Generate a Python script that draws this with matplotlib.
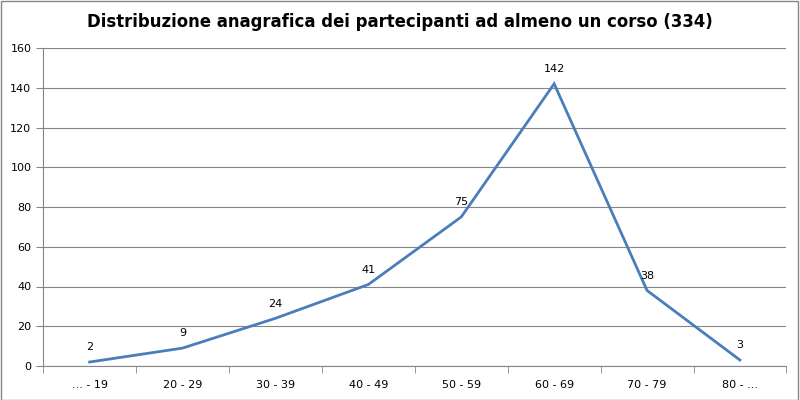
import numpy as np
import matplotlib.pyplot as plt
from matplotlib.patches import Rectangle

# Chart data
age_groups = ['... - 19', '20 - 29', '30 - 39', '40 - 49', '50 - 59', '60 - 69', '70 - 79', '80 - ...']
participants = [2, 9, 24, 41, 75, 142, 38, 3]
y_ticks = [0, 20, 40, 60, 80, 100, 120, 140, 160]
title = 'Distribuzione anagrafica dei partecipanti ad almeno un corso (334)'

plt.rcParams['font.family'] = ['DejaVu Sans']

fig = plt.figure(figsize=(8, 4), dpi=100)
ax = fig.add_axes([0.054, 0.085, 0.929, 0.795])

x = np.arange(len(age_groups))
ax.plot(x, participants, color='#4A7EBB', linewidth=2.0, solid_joinstyle='miter')

# data labels above each point
for xi, v in zip(x, participants):
    ax.annotate(str(v), (xi, v), xytext=(0, 7), textcoords='offset points',
                ha='center', va='bottom', fontsize=8)

ax.set_xlim(-0.5, len(age_groups) - 0.5)
ax.set_ylim(0, 160)
ax.set_yticks(y_ticks)
ax.set_xticks(x)
ax.set_xticklabels(age_groups)
ax.set_xticks(np.arange(-0.5, len(age_groups)), minor=True)
ax.tick_params(axis='x', which='major', length=0, labelsize=8, pad=10)
ax.tick_params(axis='x', which='minor', length=5, color='#868686', direction='out')
ax.tick_params(axis='y', length=5, color='#868686', labelsize=8)

ax.grid(axis='y', color='#868686', linewidth=0.8)
ax.set_axisbelow(True)
for side in ['top', 'right']:
    ax.spines[side].set_visible(False)
for side in ['left', 'bottom']:
    ax.spines[side].set_color('#868686')

fig.text(0.5, 0.945, title, ha='center', va='center', fontsize=11.9, fontweight='bold')

# outer border
fig.patches.append(Rectangle((0.001, 0.001), 0.997, 0.996, transform=fig.transFigure,
                             fill=False, edgecolor='#868686', linewidth=1))

fig.savefig('out.png', dpi=100)
